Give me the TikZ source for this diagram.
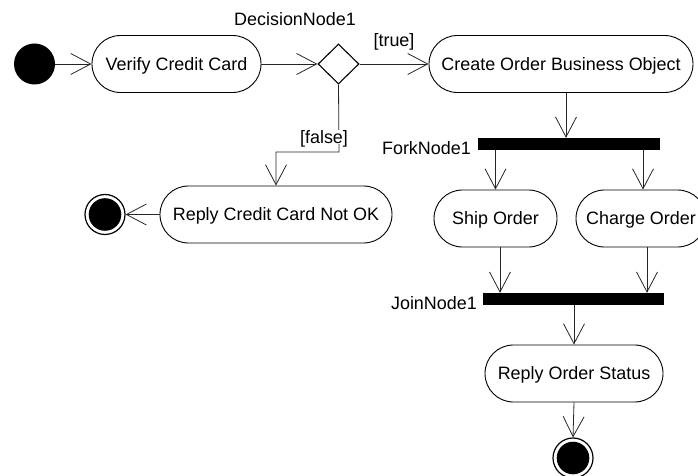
\documentclass[tikz,border=0pt]{standalone}
\usepackage{fontspec}
\setmainfont{Liberation Sans}
\usetikzlibrary{shapes.geometric,arrows.meta}
\begin{document}
\begin{tikzpicture}[x=1bp,y=-1bp,
  every node/.style={font=\fontsize{18}{20}\selectfont},
  act/.style={draw, line width=0.9bp, rounded corners=28.4bp, minimum height=57bp, inner sep=0pt, text height=12.8bp, text depth=0pt},
  lbl/.style={inner sep=0pt, text height=12.8bp, text depth=0pt},
  bar/.style={fill=black, inner sep=0pt, minimum height=12bp},
  initnode/.style={circle, fill=black, minimum size=41bp, inner sep=0pt},
  finalnode/.style={circle, draw, line width=1.2bp, fill=white, minimum size=40bp, inner sep=0pt,
     path picture={\fill[black] (path picture bounding box.center) circle (16.3bp);}},
  flow/.style={line width=0.8bp, draw=black!85, -{Straight Barb[length=20bp,width=21bp]}},
]
\clip (0,0) rectangle (698,476);
\node[initnode] (init) at (34.5,64) {};
\node[act, minimum width=169bp] (verify) at (176.5,64) {Verify Credit Card};
\node[diamond, draw, line width=1.1bp, minimum width=41bp, minimum height=40bp, inner sep=0pt] (dec) at (338.5,64) {};
\node[lbl] (declbl) at (295,19) {DecisionNode1};
\node[act, minimum width=264bp] (create) at (561,64) {Create Order Business Object};
\node[bar, minimum width=182bp] (fork) at (569,144) {};
\node[lbl, anchor=east] (forklbl) at (471,148) {ForkNode1};
\node[act, minimum width=232bp] (rnot) at (276,214.5) {Reply Credit Card Not OK};
\node[finalnode] (f1) at (105,214.5) {};
\node[act, minimum width=123bp] (ship) at (495.5,218.5) {Ship Order};
\node[act, minimum width=130bp] (charge) at (641,218.5) {Charge Order};
\node[bar, minimum width=181bp] (join) at (573.5,299) {};
\node[lbl, anchor=east] (joinlbl) at (477,303) {JoinNode1};
\node[act, minimum width=178bp] (reply) at (574,373.5) {Reply Order Status};
\node[finalnode] (f2) at (573,458) {};
\coordinate (fb) at (339,152);

\draw[flow] (init.east) -- (verify.west);
\draw[flow] (verify.east) -- (dec.west);
\draw[flow] (dec.east) -- (create.west);
\node[lbl] (truelbl) at (394,40) {[true]};
\draw[flow] (dec.south) -- (fb) -| (rnot.north);
\node[lbl, fill=white, inner sep=1bp] (falselbl) at (324,137) {[false]};
\draw[flow] (rnot.west) -- (f1.east);
\draw[flow] ([xshift=5bp]create.south) -- ([xshift=5bp]create.south |- fork.north);
\draw[flow] (fork.south -| ship.north) -- (ship.north);
\draw[flow] ([xshift=2bp]charge.north |- fork.south) -- ([xshift=2bp]charge.north);
\draw[flow] ([xshift=4.5bp]ship.south) -- ([xshift=4.5bp]ship.south |- join.north);
\draw[flow] ([xshift=6bp]charge.south) -- ([xshift=6bp]charge.south |- join.north);
\draw[flow] (join.south -| reply.north) -- (reply.north);
\draw[flow] (reply.south) -- (f2.north);
\end{tikzpicture}
\end{document}
